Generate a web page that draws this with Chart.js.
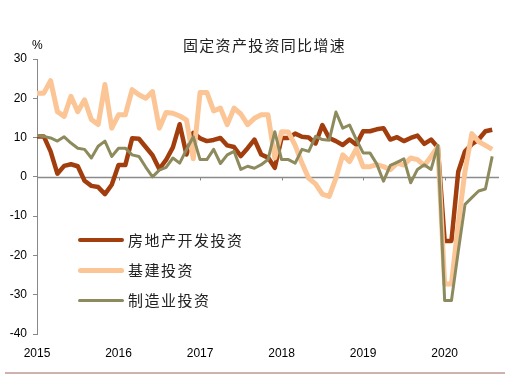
<!DOCTYPE html>
<html><head><meta charset="utf-8">
<script src="https://cdn.jsdelivr.net/npm/chart.js@4/dist/chart.umd.min.js"></script>
<style>
html,body{margin:0;padding:0;background:#fff;}
#wrap{position:relative;width:511px;height:379px;overflow:hidden;background:#fff;}
canvas{position:absolute;left:0;top:0;}
.t{position:absolute;white-space:nowrap;font-family:"Noto Sans CJK SC",sans-serif;color:#222;line-height:1;}
.lg{position:absolute;border-radius:3px;}
</style></head><body>
<div id="wrap">
<canvas id="c" width="511" height="379"></canvas>
<div class="t" style="left:183px;top:37px;font-size:15px;letter-spacing:1.3px;">固定资产投资同比增速</div>
<div class="t" style="left:32px;top:39px;font-family:'Liberation Sans',Arial,sans-serif;font-size:12px;color:#000;">%</div>
<div id="legend"></div>
<div style="position:absolute;left:5px;top:372px;width:500px;height:2px;background:#cdb2ae;"></div>
</div>
<script>
// Monthly index: 0 = Jan 2015 ... 67 = Aug 2020
const yearTicks = [0, 12, 24, 36, 48, 60];
const yearLabels = ["2015", "2016", "2017", "2018", "2019", "2020"];
const seriesNames = ["房地产开发投资", "基建投资", "制造业投资"];

const realEstate = [10.3,10.3,6.5,0.8,2.8,3.2,2.7,-1.0,-2.3,-2.6,-4.4,-2.0,
  3.0,3.0,9.8,9.7,7.6,5.5,2.0,4.3,7.5,13.4,5.7,11.2,
  9.8,9.1,9.4,9.9,8.0,7.6,5.3,7.3,9.5,5.7,4.9,2.3,
  9.9,9.9,11.0,10.2,10.0,8.5,13.2,9.9,9.1,8.1,9.5,8.2,
  11.6,11.6,12.1,12.4,9.5,10.1,9.1,9.9,10.5,8.4,9.5,7.5,
  -16.3,-16.3,1.3,6.5,8.3,9.5,11.6,12.0];
const infra = [21.3,21.3,24.5,16.6,15.4,20.5,16.6,19.6,14.6,13.3,23.5,12.4,
  15.8,15.8,22.2,20.9,20.0,21.7,12.4,16.4,16.2,15.5,14.5,4.6,
  21.5,21.5,16.8,17.5,13.3,17.5,16.0,13.3,14.9,15.8,15.8,4.8,
  11.5,11.4,8.0,3.5,-0.4,-1.8,-4.4,-5.0,-0.3,5.6,3.9,7.1,
  2.6,2.6,3.1,2.6,1.8,3.5,3.0,4.8,4.4,2.9,5.2,7.7,
  -27.3,-27.3,-12.0,1.5,11.0,9.0,8.0,7.0];
const manuf = [10.5,10.3,9.9,9.1,10.2,8.6,7.3,7.0,4.8,7.8,9.1,5.2,
  7.3,7.3,5.6,5.2,2.5,0.0,1.7,2.4,4.8,3.5,6.9,10.2,
  4.4,4.4,7.0,3.4,5.6,6.5,1.9,2.7,2.2,3.1,4.4,11.5,
  4.4,4.4,3.5,7.0,6.5,10.3,9.5,9.3,16.5,12.4,13.2,9.5,
  6.1,6.1,3.3,-1.1,2.9,3.7,4.6,-1.5,1.9,3.1,1.9,8.0,
  -31.5,-31.5,-19.0,-7.0,-5.3,-3.6,-3.1,5.2];

const colors = ["#a23e0e", "#fbc596", "#8d8b5d"];
const widths = [4.5, 5, 3];
const toXY = arr => arr.map((v, i) => ({x: i, y: v}));

const zeroLine = {
  id: 'zeroLine',
  beforeDatasetsDraw(chart) {
    const {ctx, chartArea: a, scales: {x, y}} = chart;
    const py = Math.round(y.getPixelForValue(0)) + 0.5;
    ctx.save();
    ctx.strokeStyle = '#8a8a8a';
    ctx.lineWidth = 1.5;
    ctx.beginPath();
    ctx.moveTo(a.left, py); ctx.lineTo(a.right, py);
    ctx.stroke();
    ctx.lineWidth = 1;
    ctx.beginPath();
    yearTicks.forEach(v => { const px = Math.round(x.getPixelForValue(v)) + 0.5; ctx.moveTo(px, py); ctx.lineTo(px, py + 3); });
    ctx.stroke();
    ctx.restore();
  }
};

const datasets = [realEstate, infra, manuf].map((arr, k) => ({
  label: seriesNames[k], data: toXY(arr), borderColor: colors[k], backgroundColor: colors[k],
  borderWidth: widths[k], pointRadius: 0, tension: 0, fill: false, order: 3 - k,
  borderJoinStyle: 'round', borderCapStyle: 'butt'
}));

new Chart(document.getElementById('c'), {
  type: 'line',
  data: { datasets },
  plugins: [zeroLine],
  options: {
    responsive: false, animation: false, devicePixelRatio: 1,
    layout: { padding: { top: 59, right: 12, left: 0, bottom: 0 } },
    plugins: { legend: { display: false }, tooltip: { enabled: false }, title: { display: false } },
    scales: {
      x: {
        type: 'linear', min: 0, max: 68,
        afterBuildTicks: s => { s.ticks = yearTicks.map(v => ({value: v})); },
        afterFit: s => { s.height = 45; },
        ticks: { autoSkip: false, maxRotation: 0, padding: 4, color: '#000',
          font: { family: "'Liberation Sans', Arial, sans-serif", size: 12 },
          callback: v => yearLabels[yearTicks.indexOf(v)] },
        grid: { display: false }, border: { display: false }
      },
      y: {
        min: -40, max: 30,
        afterFit: s => { s.width = 37; },
        ticks: { stepSize: 10, padding: 6, color: '#000',
          font: { family: "'Liberation Sans', Arial, sans-serif", size: 12 } },
        grid: { drawOnChartArea: false, drawTicks: true, tickLength: 4, color: '#888' },
        border: { display: true, color: '#888', width: 1 }
      }
    }
  }
});

// legend (HTML, real text)
const lg = document.getElementById('legend');
const rowsY = [240, 270, 300];
seriesNames.forEach((name, k) => {
  const line = document.createElement('div');
  line.className = 'lg';
  line.style.left = '78px'; line.style.width = '46px';
  line.style.height = widths[k] + 'px';
  line.style.top = (rowsY[k] - widths[k] / 2) + 'px';
  line.style.background = colors[k];
  lg.appendChild(line);
  const t = document.createElement('div');
  t.className = 't';
  t.style.left = '128px'; t.style.top = (rowsY[k] - 8) + 'px';
  t.style.fontSize = '15px'; t.style.letterSpacing = '1.5px';
  t.textContent = name;
  lg.appendChild(t);
});
</script>
</body></html>
